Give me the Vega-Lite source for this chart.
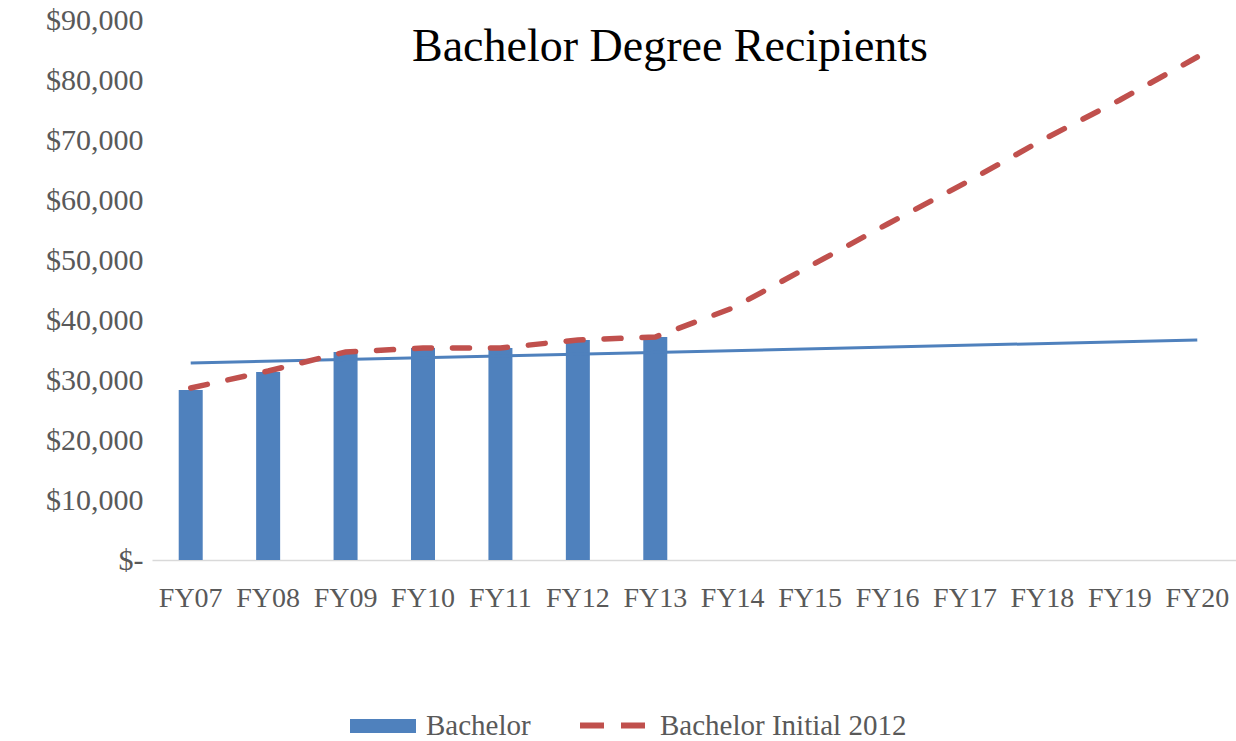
{
  "$schema": "https://vega.github.io/schema/vega-lite/v6.json",
  "width": 1084,
  "height": 540,
  "autosize": {"type": "none"},
  "padding": {"left": 152, "top": 20, "right": 0, "bottom": 181},
  "background": "white",
  "title": {
    "text": "Bachelor Degree Recipients",
    "font": "Liberation Serif",
    "fontSize": 46,
    "fontWeight": "normal",
    "color": "#000000",
    "anchor": "middle",
    "offset": -20,
    "dy": 46,
    "dx": -24
  },
  "datasets": {
    "main": [
      {"year": "FY07", "bachelor": 28333, "initial": 28667},
      {"year": "FY08", "bachelor": 31333, "initial": 31500},
      {"year": "FY09", "bachelor": 34667, "initial": 34667},
      {"year": "FY10", "bachelor": 35333, "initial": 35333},
      {"year": "FY11", "bachelor": 35333, "initial": 35333},
      {"year": "FY12", "bachelor": 36667, "initial": 36667},
      {"year": "FY13", "bachelor": 37167, "initial": 37167},
      {"year": "FY14", "bachelor": null, "initial": 42000},
      {"year": "FY15", "bachelor": null, "initial": 49000},
      {"year": "FY16", "bachelor": null, "initial": 56000},
      {"year": "FY17", "bachelor": null, "initial": 62833},
      {"year": "FY18", "bachelor": null, "initial": 70000},
      {"year": "FY19", "bachelor": null, "initial": 76667},
      {"year": "FY20", "bachelor": null, "initial": 83833}
    ],
    "trend": [
      {"year": "FY07", "trend": 32833},
      {"year": "FY20", "trend": 36667}
    ]
  },
  "layer": [
    {
      "data": {"name": "main"},
      "mark": {"type": "bar"},
      "encoding": {
        "x": {
          "field": "year",
          "type": "nominal",
          "scale": {"paddingInner": 0.69, "paddingOuter": 0.345},
          "axis": {
            "title": null,
            "labelAngle": 0,
            "labelFont": "Liberation Serif",
            "labelFontSize": 28,
            "labelColor": "#595959",
            "ticks": false,
            "domainColor": "#D9D9D9",
            "domainWidth": 1.5,
            "labelPadding": 24,
            "grid": false
          }
        },
        "y": {
          "field": "bachelor",
          "type": "quantitative",
          "scale": {"domain": [0, 90000], "nice": false},
          "axis": {
            "title": null,
            "values": [0, 10000, 20000, 30000, 40000, 50000, 60000, 70000, 80000, 90000],
            "labelExpr": "datum.value == 0 ? '$-\u2007\u2007\u2007' : '$' + format(datum.value, ',')",
            "domain": false,
            "ticks": false,
            "grid": false,
            "labelPadding": 9,
            "labelFont": "Liberation Serif",
            "labelFontSize": 30,
            "labelColor": "#595959"
          }
        },
        "fill": {
          "datum": "Bachelor",
          "scale": {"range": ["#4F81BD"]},
          "legend": {
            "orient": "none",
            "legendX": 198,
            "legendY": 673,
            "title": null,
            "symbolType": "M-1,-0.21H1V0.21H-1Z",
            "symbolSize": 4356,
            "symbolStrokeWidth": 0,
            "labelFont": "Liberation Serif",
            "labelFontSize": 29,
            "labelColor": "#595959",
            "labelOffset": 10,
            "labelLimit": 400
          }
        }
      }
    },
    {
      "data": {"name": "trend"},
      "mark": {"type": "line", "color": "#4F81BD", "strokeWidth": 3},
      "encoding": {
        "x": {"field": "year", "type": "nominal"},
        "y": {"field": "trend", "type": "quantitative"}
      }
    },
    {
      "data": {"name": "main"},
      "mark": {"type": "line", "strokeWidth": 5.5, "strokeDash": [17, 21], "strokeCap": "round"},
      "encoding": {
        "x": {"field": "year", "type": "nominal"},
        "y": {"field": "initial", "type": "quantitative"},
        "stroke": {
          "datum": "Bachelor Initial 2012",
          "scale": {"range": ["#C0504D"]},
          "legend": {
            "orient": "none",
            "legendX": 425,
            "legendY": 670,
            "title": null,
            "symbolType": "stroke",
            "symbolSize": 4225,
            "symbolStrokeWidth": 6,
            "symbolDash": [24, 17],
            "labelFont": "Liberation Serif",
            "labelFontSize": 29,
            "labelColor": "#595959",
            "labelOffset": 12,
            "labelLimit": 400
          }
        }
      }
    }
  ],
  "config": {"view": {"stroke": null}}
}
